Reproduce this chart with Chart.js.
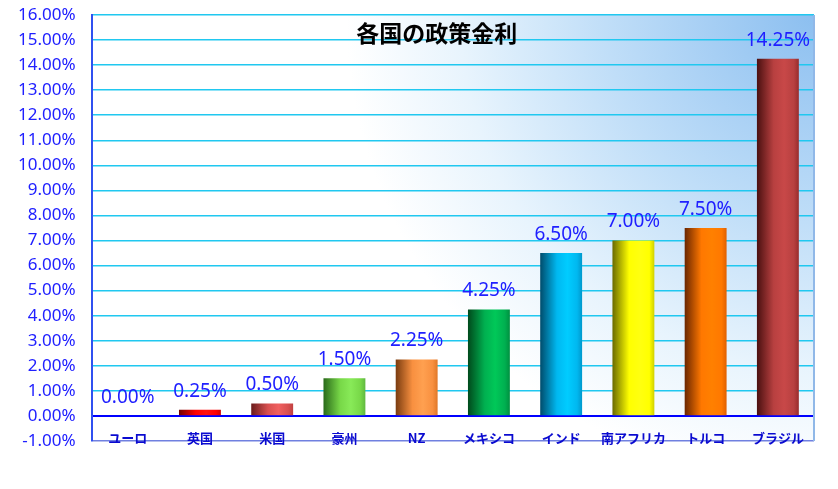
<!DOCTYPE html>
<html>
<head>
<meta charset="utf-8">
<script src="https://cdn.jsdelivr.net/npm/chart.js@4.4.1/dist/chart.umd.min.js"></script>
<style>
  html, body { margin: 0; background: #fff; }
  #wrap { width: 838px; height: 489px; }
</style>
</head>
<body>
<div id="wrap"><canvas id="rateChart"></canvas></div>
<script>
const countries = ["ユーロ", "英国", "米国", "豪州", "NZ", "メキシコ", "インド", "南アフリカ", "トルコ", "ブラジル"];
const rates = [0.0, 0.25, 0.5, 1.5, 2.25, 4.25, 6.5, 7.0, 7.5, 14.25];
const yMin = -1;
const yMax = 16;

// cylinder shading per bar: dark edge, main colour, highlight, right edge
const barDark = ["#600000", "#700000", "#6a1c1c", "#2a6a1a", "#7a3c10", "#004a1c", "#004c6c", "#6a6a00", "#6a2600", "#4a1010"];
const barMain = ["#ff0000", "#ff0000", "#d85050", "#78d848", "#f89040", "#00b050", "#00b8f0", "#ffff00", "#ff7800", "#b84040"];
const barLight = ["#ff3030", "#ff1010", "#f06060", "#88ea58", "#ffa050", "#00c858", "#00ccff", "#ffff10", "#ff8000", "#c84848"];
const barEdge = ["#c00000", "#d00000", "#c04040", "#60b840", "#e07828", "#009040", "#0098cc", "#d0d000", "#e06000", "#982c2c"];

const barPct = 0.58;
const tickBlue = "#2020ff";

function fmt(v) {
  return v.toFixed(2) + "%";
}

function barFill(ctx) {
  const chart = ctx.chart;
  const xs = chart.scales.x;
  const i = ctx.dataIndex;
  if (!chart.chartArea || !xs) return barMain[i];
  const cx = xs.getPixelForValue(i);
  const half = (xs.width / countries.length) * barPct / 2;
  const g = chart.ctx.createLinearGradient(cx - half, 0, cx + half, 0);
  g.addColorStop(0, barDark[i]);
  g.addColorStop(0.4, barMain[i]);
  g.addColorStop(0.65, barLight[i]);
  g.addColorStop(0.88, barMain[i]);
  g.addColorStop(1, barEdge[i]);
  return g;
}

const backdrop = {
  id: "backdrop",
  beforeDraw(chart) {
    const { ctx, chartArea: a } = chart;
    ctx.save();
    const r = Math.hypot(a.right - a.left, a.bottom - a.top) * 0.62;
    const g = ctx.createRadialGradient(a.right, a.top, 0, a.right, a.top, r);
    g.addColorStop(0, "#8cbff0");
    g.addColorStop(0.4, "#c0def8");
    g.addColorStop(0.68, "#e8f4fd");
    g.addColorStop(0.9, "#ffffff");
    g.addColorStop(1, "#ffffff");
    ctx.fillStyle = g;
    ctx.fillRect(a.left, a.top, a.right - a.left, a.bottom - a.top);
    ctx.restore();
  },
  afterDraw(chart) {
    const { ctx, chartArea: a } = chart;
    ctx.save();
    ctx.strokeStyle = "#90b8e8";
    ctx.lineWidth = 2;
    ctx.beginPath();
    ctx.moveTo(a.right, a.top);
    ctx.lineTo(a.right, a.bottom);
    ctx.stroke();
    ctx.restore();
  }
};

const barValues = {
  id: "barValues",
  afterDatasetsDraw(chart) {
    const { ctx, chartArea: a } = chart;
    const meta = chart.getDatasetMeta(0);
    ctx.save();
    ctx.font = "19px 'Noto Sans'";
    ctx.fillStyle = tickBlue;
    ctx.textAlign = "center";
    ctx.textBaseline = "bottom";
    meta.data.forEach((bar, i) => {
      ctx.fillText(fmt(rates[i]), bar.x, bar.y - 9);
    });
    ctx.font = "bold 23px 'Noto Sans CJK JP'";
    ctx.fillStyle = "#000";
    ctx.textBaseline = "middle";
    ctx.fillText("各国の政策金利", (a.left + a.right) / 2 - 16, a.top + 18);
    ctx.restore();
  }
};

new Chart(document.getElementById("rateChart"), {
  type: "bar",
  data: {
    labels: countries,
    datasets: [
      {
        data: rates,
        backgroundColor: barFill,
        borderWidth: 0,
        barPercentage: barPct,
        categoryPercentage: 1.0,
      },
    ],
  },
  options: {
    responsive: true,
    maintainAspectRatio: false,
    animation: false,
    layout: { padding: { left: 2, right: 24, top: 15, bottom: 48 } },
    plugins: {
      legend: { display: false },
      tooltip: { enabled: false },
    },
    scales: {
      x: {
        position: { y: 0 },
        grid: { display: false },
        border: { color: "#0000ff", width: 2 },
        ticks: {
          color: "#0a0ad0",
          padding: 6,
          font: { family: "'Noto Sans CJK JP'", size: 13, weight: "bold" },
        },
      },
      y: {
        min: yMin,
        max: yMax,
        afterFit(scale) {
          // tick padding is otherwise added above and below the axis too
          scale.paddingTop = 0;
          scale.paddingBottom = 0;
        },
        ticks: {
          stepSize: 1,
          padding: 16,
          color: tickBlue,
          font: { family: "'Noto Sans'", size: 17 },
          callback: (v) => fmt(v),
        },
        grid: {
          drawTicks: false,
          lineWidth: 1.5,
          color: (c) => (c.tick && c.tick.value === yMin ? "#7080e0" : "#20c8f0"),
        },
        border: { color: "#3050f0", width: 2 },
      },
    },
  },
  plugins: [backdrop, barValues],
});
</script>
</body>
</html>
